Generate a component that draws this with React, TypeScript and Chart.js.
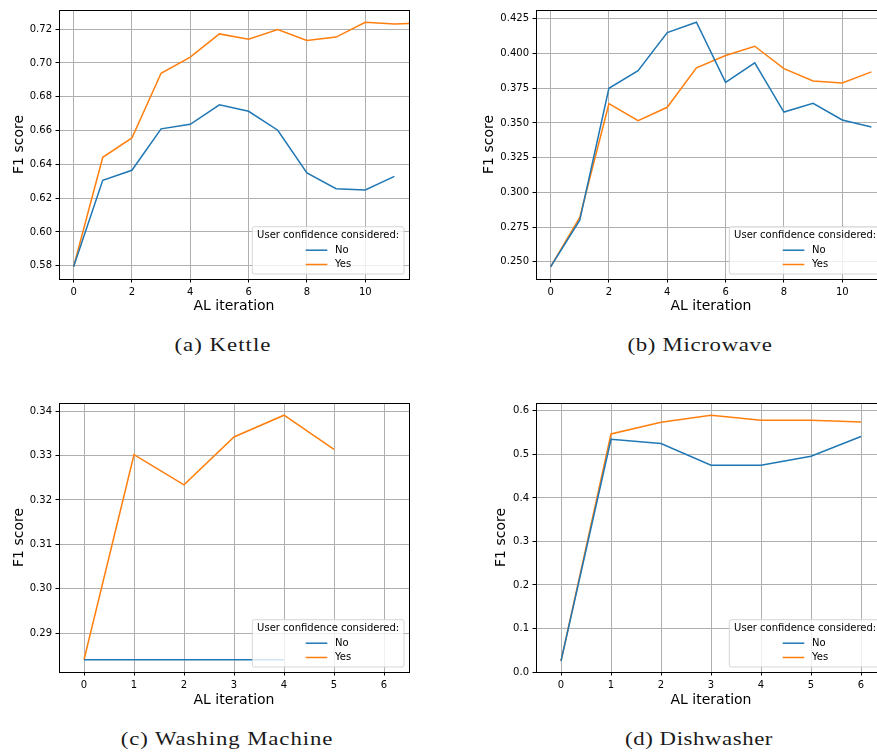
import React, { useEffect, useRef } from "react";
import { Chart, registerables } from "chart.js";

Chart.register(...registerables);
Chart.defaults.font.family = '"DejaVu Sans", sans-serif';
Chart.defaults.color = "#000";

const BLUE = "#1f77b4";
const ORANGE = "#ff7f0e";
const SERIES_NAMES = ["No", "Yes"];
const LEGEND_TITLE = "User confidence considered:";
const X_TITLE = "AL iteration";
const Y_TITLE = "F1 score";

// (a) Kettle
const kettleNo = [0.5794, 0.6306, 0.6365, 0.661, 0.6637, 0.6752, 0.6714, 0.6602, 0.6349, 0.6256, 0.6248, 0.6329];
const kettleYes = [0.5794, 0.6442, 0.6556, 0.6939, 0.7034, 0.7172, 0.7141, 0.7198, 0.7133, 0.7153, 0.7241, 0.723, 0.7238];
const kettleXTicks = [0, 2, 4, 6, 8, 10];
const kettleYTicks = [0.58, 0.6, 0.62, 0.64, 0.66, 0.68, 0.7, 0.72];

// (b) Microwave
const microwaveNo = [0.2464, 0.28, 0.375, 0.3877, 0.4151, 0.4226, 0.3793, 0.3933, 0.3579, 0.3642, 0.3522, 0.3471];
const microwaveYes = [0.2464, 0.282, 0.3639, 0.3517, 0.3613, 0.3897, 0.3986, 0.4053, 0.3892, 0.3803, 0.3788, 0.3868];
const microwaveXTicks = [0, 2, 4, 6, 8, 10];
const microwaveYTicks = [0.25, 0.275, 0.3, 0.325, 0.35, 0.375, 0.4, 0.425];

// (c) Washing Machine
const washingNo = [0.284, 0.284, 0.284, 0.284, 0.284];
const washingYes = [0.284, 0.3302, 0.3234, 0.3342, 0.3391, 0.3314];
const washingXTicks = [0, 1, 2, 3, 4, 5, 6];
const washingYTicks = [0.29, 0.3, 0.31, 0.32, 0.33, 0.34];

// (d) Dishwasher
const dishwasherNo = [0.0252, 0.5348, 0.5249, 0.4751, 0.4751, 0.4958, 0.541];
const dishwasherYes = [0.025, 0.547, 0.5738, 0.5899, 0.5784, 0.5784, 0.5746];
const dishwasherXTicks = [0, 1, 2, 3, 4, 5, 6];
const dishwasherYTicks = [0, 0.1, 0.2, 0.3, 0.4, 0.5, 0.6];

const CAPTIONS = ["(a) Kettle", "(b) Microwave", "(c) Washing Machine", "(d) Dishwasher"];

// layout of one subplot
const PLOT_W = 350;
const PLOT_H = 269;
const PAD_TOP = 10;
const PAD_RIGHT = 11;
const XAXIS_H = 41;

type PanelSpec = {
  no: number[];
  yes: number[];
  xRange: [number, number];
  xTicks: number[];
  yTicks: number[];
  yDecimals: number;
  yFloor?: number;
  left: number;
  top: number;
  axisW: number;
  yTitlePad: number;
  xTitlePad: number;
};

const PANELS: PanelSpec[] = [
  { no: kettleNo, yes: kettleYes, xRange: [-0.5, 11.5], xTicks: kettleXTicks, yTicks: kettleYTicks, yDecimals: 2,
    left: 0, top: 0, axisW: 59, yTitlePad: 10.6, xTitlePad: 5.6 },
  { no: microwaveNo, yes: microwaveYes, xRange: [-0.5, 11.5], xTicks: microwaveXTicks, yTicks: microwaveYTicks, yDecimals: 3,
    left: 438, top: 0, axisW: 98, yTitlePad: 42.9, xTitlePad: 5.6 },
  { no: washingNo, yes: washingYes, xRange: [-0.5, 6.5], xTicks: washingXTicks, yTicks: washingYTicks, yDecimals: 2,
    left: 0, top: 393, axisW: 59, yTitlePad: 10.6, xTitlePad: 4.6 },
  { no: dishwasherNo, yes: dishwasherYes, xRange: [-0.5, 6.5], xTicks: dishwasherXTicks, yTicks: dishwasherYTicks, yDecimals: 1, yFloor: 0,
    left: 438, top: 393, axisW: 98, yTitlePad: 55.3, xTitlePad: 4.6 },
];

// matplotlib-style 5% data margins
function autoLimits(values: number[]): [number, number] {
  const lo = Math.min(...values);
  const hi = Math.max(...values);
  const m = (hi - lo) * 0.05;
  return [lo - m, hi + m];
}

function roundRectPath(ctx: CanvasRenderingContext2D, x: number, y: number, w: number, h: number, r: number) {
  ctx.beginPath();
  ctx.moveTo(x + r, y);
  ctx.lineTo(x + w - r, y);
  ctx.arcTo(x + w, y, x + w, y + r, r);
  ctx.lineTo(x + w, y + h - r);
  ctx.arcTo(x + w, y + h, x + w - r, y + h, r);
  ctx.lineTo(x + r, y + h);
  ctx.arcTo(x, y + h, x, y + h - r, r);
  ctx.lineTo(x, y + r);
  ctx.arcTo(x, y, x + r, y, r);
  ctx.closePath();
}

// axes frame + boxed legend in the lower-right corner
const frameLegendPlugin = {
  id: "frameLegend",
  afterDatasetsDraw(chart: any) {
    const { ctx, chartArea: ca } = chart;
    ctx.save();
    ctx.strokeStyle = "#000";
    ctx.lineWidth = 1;
    const x0 = Math.floor(ca.left) + 0.5;
    const x1 = Math.floor(ca.right) + 0.5;
    const y0 = Math.floor(ca.top) + 0.5;
    const y1 = Math.floor(ca.bottom) + 0.5;
    ctx.strokeRect(x0, y0, x1 - x0, y1 - y0);

    const w = 151.7;
    const h = 47.3;
    const bx = ca.right - 5 - w;
    const by = ca.bottom - 5 - h;
    roundRectPath(ctx, bx, by, w, h, 2);
    ctx.fillStyle = "rgba(255,255,255,0.8)";
    ctx.fill();
    ctx.strokeStyle = "rgba(204,204,204,0.8)";
    ctx.lineWidth = 1;
    ctx.stroke();

    ctx.font = '10px "DejaVu Sans"';
    ctx.fillStyle = "#000";
    ctx.textAlign = "center";
    ctx.textBaseline = "middle";
    ctx.fillText(LEGEND_TITLE, bx + w / 2, by + 8.8);

    const colors = [BLUE, ORANGE];
    const rowsY = [by + 23.5, by + 37.8];
    ctx.textAlign = "left";
    SERIES_NAMES.forEach((name, i) => {
      ctx.strokeStyle = colors[i];
      ctx.lineWidth = 1.5;
      ctx.beginPath();
      ctx.moveTo(bx + 53.4, rowsY[i]);
      ctx.lineTo(bx + 75, rowsY[i]);
      ctx.stroke();
      ctx.fillStyle = "#000";
      ctx.fillText(name, bx + 82.7, rowsY[i]);
    });
    ctx.restore();
  },
};

function Panel({ spec }: { spec: PanelSpec }) {
  const ref = useRef<HTMLCanvasElement>(null);
  const width = spec.axisW + PLOT_W + PAD_RIGHT;
  const height = PAD_TOP + PLOT_H + XAXIS_H;

  useEffect(() => {
    if (!ref.current) return;
    const [yLo, yHi] = autoLimits([...spec.no, ...spec.yes]);
    const toPoints = (arr: number[]) => arr.map((y, i) => ({ x: i, y }));
    const chart = new Chart(ref.current, {
      type: "line",
      data: {
        datasets: [
          { label: SERIES_NAMES[0], data: toPoints(spec.no), borderColor: BLUE, borderWidth: 1.5, pointRadius: 0, tension: 0, fill: false },
          { label: SERIES_NAMES[1], data: toPoints(spec.yes), borderColor: ORANGE, borderWidth: 1.5, pointRadius: 0, tension: 0, fill: false },
        ],
      },
      options: {
        animation: false,
        responsive: false,
        devicePixelRatio: 1,
        layout: { padding: { top: PAD_TOP, right: PAD_RIGHT, left: 0, bottom: 0 } },
        plugins: { legend: { display: false }, tooltip: { enabled: false } },
        events: [],
        scales: {
          x: {
            type: "linear",
            min: spec.xRange[0],
            max: spec.xRange[1],
            afterBuildTicks: (scale: any) => {
              scale.ticks = spec.xTicks.map((v) => ({ value: v }));
            },
            afterFit: (scale: any) => {
              scale.height = XAXIS_H;
            },
            ticks: {
              autoSkip: false,
              maxRotation: 0,
              padding: 3.5,
              font: { size: 10 },
              color: "#000",
              callback: (v: any) => String(v),
            },
            grid: { color: "#b0b0b0", lineWidth: 1, drawTicks: true, tickLength: 3.5, tickColor: "#000", tickWidth: 1 },
            border: { display: false },
            title: { display: true, text: X_TITLE, font: { size: 14 }, color: "#000", padding: { top: 0, bottom: spec.xTitlePad } },
          },
          y: {
            type: "linear",
            min: spec.yFloor !== undefined ? spec.yFloor : yLo,
            max: yHi,
            afterBuildTicks: (scale: any) => {
              scale.ticks = spec.yTicks.map((v) => ({ value: v }));
            },
            afterFit: (scale: any) => {
              scale.width = spec.axisW;
            },
            ticks: {
              padding: 3.5,
              font: { size: 10 },
              color: "#000",
              callback: (v: any) => Number(v).toFixed(spec.yDecimals),
            },
            grid: { color: "#b0b0b0", lineWidth: 1, drawTicks: true, tickLength: 3.5, tickColor: "#000", tickWidth: 1 },
            border: { display: false },
            title: { display: true, text: Y_TITLE, font: { size: 14 }, color: "#000", padding: { top: spec.yTitlePad, bottom: 0 } },
          },
        },
      },
      plugins: [frameLegendPlugin],
    } as any);
    return () => chart.destroy();
  }, [spec]);

  return (
    <canvas
      ref={ref}
      width={width}
      height={height}
      style={{ position: "absolute", left: spec.left, top: spec.top, width, height }}
    />
  );
}

const CAPTION_FONT = 19;
const CAPTION_FAMILY = '"Liberation Serif", serif';
const CAPTION_BOXES = [
  { cx: 223.3, cy: 343.5, w: 97 },
  { cx: 699.5, cy: 343.5, w: 145 },
  { cx: 226.5, cy: 738, w: 213 },
  { cx: 699, cy: 738, w: 148 },
];

// captions are widened mostly by stretching, the rest by letter spacing
function Caption({ text, cx, cy, w }: { text: string; cx: number; cy: number; w: number }) {
  const c = document.createElement("canvas").getContext("2d");
  let sx = 1;
  let spacing = 0;
  if (c) {
    c.font = `${CAPTION_FONT}px ${CAPTION_FAMILY}`;
    const m = c.measureText(text).width;
    if (m > 0) {
      sx = Math.min(1.2, w / m);
      spacing = (w / sx - m) / text.length;
    }
  }
  return (
    <div
      style={{
        position: "absolute",
        left: cx,
        top: cy,
        transform: `translate(-50%, -50%) scaleX(${sx})`,
        whiteSpace: "nowrap",
        fontFamily: CAPTION_FAMILY,
        fontSize: CAPTION_FONT,
        letterSpacing: spacing,
        lineHeight: 1,
        color: "#1a1a1a",
      }}
    >
      {text}
    </div>
  );
}

export default function App() {
  return (
    <div style={{ position: "absolute", left: 0, top: 0, width: 877, height: 752, overflow: "hidden", background: "#fff" }}>
      {PANELS.map((p, i) => (
        <Panel key={i} spec={p} />
      ))}
      {CAPTIONS.map((t, i) => (
        <Caption key={t} text={t} {...CAPTION_BOXES[i]} />
      ))}
    </div>
  );
}
